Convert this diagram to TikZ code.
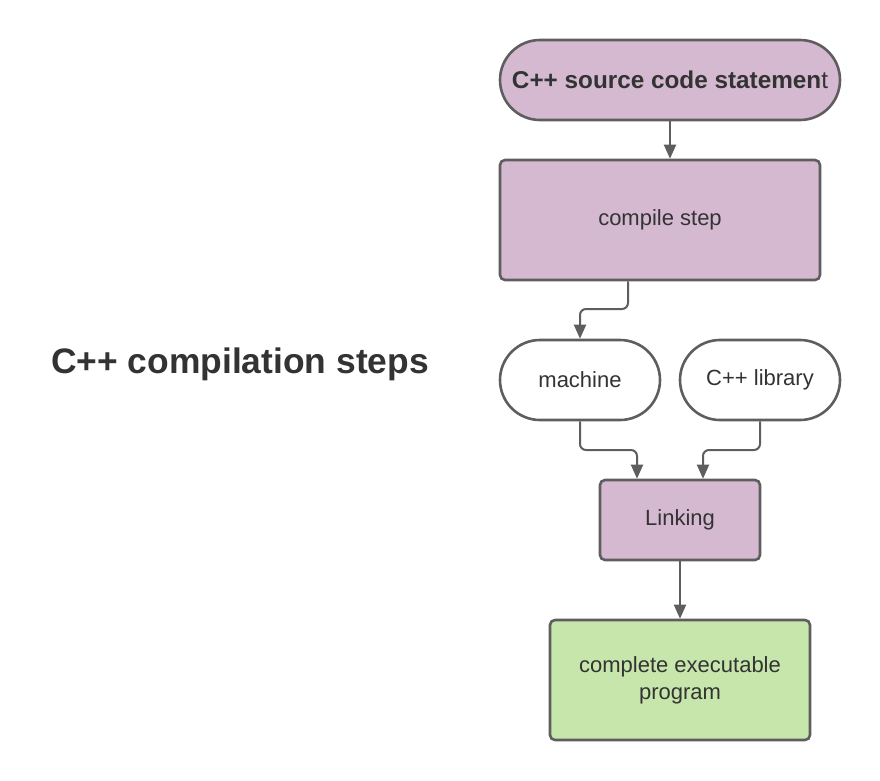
\documentclass[tikz,border=0pt]{standalone}
\usepackage{fontspec}
\setmainfont{Liberation Sans}
\usetikzlibrary{arrows.meta,shapes.misc}
\definecolor{purp}{HTML}{D4B9D1}
\definecolor{grn}{HTML}{C7E6AB}
\definecolor{edge}{HTML}{5E5E5E}
\definecolor{txt}{HTML}{333333}
\begin{document}
\begin{tikzpicture}[x=1pt,y=-1pt,
  box/.style={draw=edge,line width=2.6pt,rounded corners=5pt,fill=purp,text=txt,font=\fontsize{22}{27}\selectfont,align=center,inner sep=0pt},
  stad/.style={draw=edge,line width=2.6pt,rounded rectangle,rounded rectangle arc length=180,text=txt,font=\fontsize{22}{27}\selectfont,inner sep=0pt},
  conn/.style={draw=edge,line width=2pt,rounded corners=6pt,-{Triangle[length=14pt,width=12pt]}}]
\useasboundingbox (0,0) rectangle (880,780);
\node[font=\bfseries\fontsize{35.4}{42}\selectfont,text=txt] (title) at (240,364) {C++ compilation steps};
\node[stad,fill=purp,minimum width=340pt,minimum height=80pt,font=\fontsize{24.3}{29}\selectfont] (src) at (670,80) {\textbf{C++ source code statemen}t};
\node[box,minimum width=320pt,minimum height=120pt] (comp) at (660,220) {compile step};
\node[stad,fill=white,minimum width=160pt,minimum height=80pt] (mach) at (580,380) {machine};
\node[stad,fill=white,minimum width=160pt,minimum height=80pt] (lib) at (760,380) {C++ library};
\node[box,minimum width=160pt,minimum height=80pt] (link) at (680,520) {Linking};
\node[box,fill=grn,minimum width=260pt,minimum height=120pt] (exe) at (680,680) {complete executable\\program};
\draw[conn] (src.south) -- (src.south |- comp.north);
\draw[conn] (comp.south -| 628,0) -- (628,309) -- (580,309) -- (mach.north);
\draw[conn] (mach.south) -- (580,450) -- (637,450) -- (link.north -| 637,0);
\draw[conn] (lib.south) -- (760,450) -- (703,450) -- (link.north -| 703,0);
\draw[conn] (link.south) -- (exe.north);
\end{tikzpicture}
\end{document}
